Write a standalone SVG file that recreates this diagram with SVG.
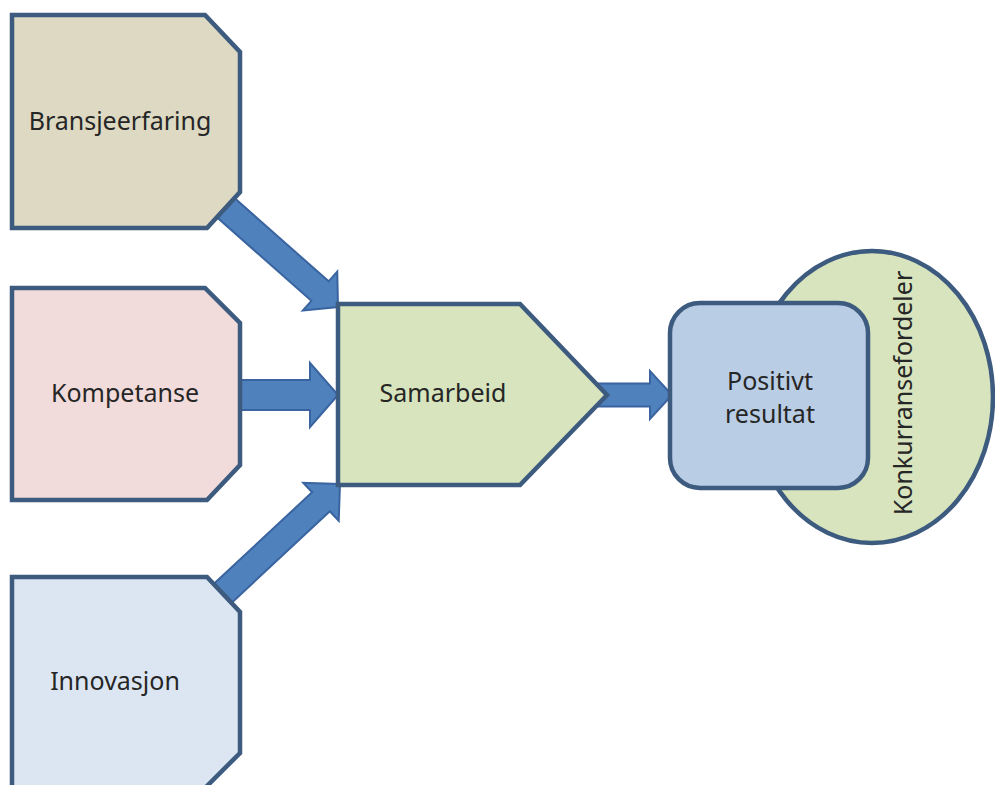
<svg xmlns="http://www.w3.org/2000/svg" width="995" height="785" viewBox="0 0 995 785">
<style>
.node{stroke:#3d5a7f;stroke-width:4.5;stroke-linejoin:miter}
.arrow{fill:#4f81bd;stroke:#3a64a0;stroke-width:2;stroke-linejoin:miter}
.lbl{font-family:"Noto Sans","Open Sans","DejaVu Sans",sans-serif;font-size:25px;fill:#262626;text-anchor:middle}
</style>
<rect width="995" height="785" fill="#ffffff"/>
<g id="connectors">
<path class="arrow" transform="translate(338,307) rotate(41.5)" d="M-170,-13 L-24,-13 L-24,-26 L0,0 L-24,26 L-24,13 L-170,13 Z"/>
<path class="arrow" d="M230,380 L310,380 L310,363 L338,395 L310,427 L310,410 L230,410 Z"/>
<path class="arrow" transform="translate(340,484) rotate(-43)" d="M-175,-13 L-26,-13 L-26,-26 L0,0 L-26,26 L-26,13 L-175,13 Z"/>
<path class="arrow" d="M592,383.5 L650,383.5 L650,371 L672,395 L650,419 L650,406.5 L592,406.5 Z"/>
</g>
<g id="bransjeerfaring">
<polygon class="node" fill="#ddd9c3" points="12,15 205,15 240,52 240,192 207,228 12,228"/>
<text class="lbl" x="120" y="130">Bransjeerfaring</text>
</g>
<g id="kompetanse">
<polygon class="node" fill="#f2dcdb" points="12,288 205,288 240,323 240,465 207,500 12,500"/>
<text class="lbl" x="125" y="402">Kompetanse</text>
</g>
<g id="innovasjon">
<polygon class="node" fill="#dce6f2" points="12,577 207,577 240,612 240,753 205,788 12,788"/>
<text class="lbl" x="115" y="690">Innovasjon</text>
</g>
<g id="samarbeid">
<polygon class="node" fill="#d7e4bd" points="338,304 520,304 607,395 520,485 338,485"/>
<text class="lbl" x="443" y="402">Samarbeid</text>
</g>
<g id="konkurransefordeler">
<ellipse class="node" fill="#d7e4bd" cx="872" cy="397" rx="121" ry="146"/>
<text class="lbl" transform="translate(912,393) rotate(-90)" x="0" y="0">Konkurransefordeler</text>
</g>
<g id="positivt-resultat">
<rect class="node" fill="#b9cde5" x="670" y="303" width="198" height="185" rx="30" ry="30"/>
<text class="lbl" x="770" y="390">Positivt</text>
<text class="lbl" x="770" y="423">resultat</text>
</g>
</svg>
